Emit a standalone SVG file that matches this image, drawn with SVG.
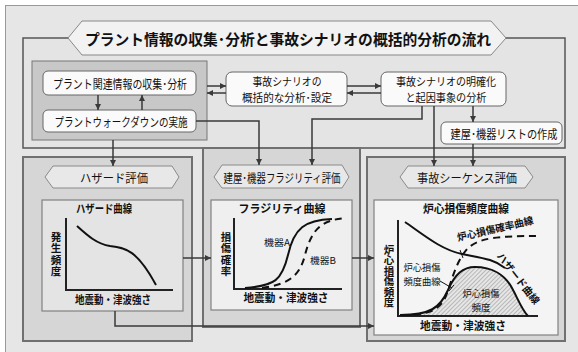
<svg xmlns="http://www.w3.org/2000/svg" width="578" height="352" viewBox="0 0 578 352">
<style>
text{font-family:"Noto Sans CJK JP","Noto Sans",sans-serif;fill:#111;dominant-baseline:central;text-anchor:middle}
.b{font-weight:bold}
.box{fill:#fafafa;stroke:#666;stroke-width:1}
.sec{fill:#d6d6d6;stroke:#707070;stroke-width:2}
.hex{fill:#e8e8e8;stroke:#8a8a8a;stroke-width:1}
.cont{stroke:#808080;stroke-width:1.2}
.ax{stroke:#222;stroke-width:2;fill:none}
.cv{stroke:#111;stroke-width:2;fill:none}
.dash{stroke:#111;stroke-width:2;fill:none;stroke-dasharray:7,5}
.con{stroke:#3a3a3a;stroke-width:1.5;fill:none}
.arr{marker-end:url(#ah)}
.yl{font-weight:bold;font-size:10.5px;writing-mode:vertical-rl;text-orientation:upright}
</style>
<defs>
<marker id="ah" viewBox="0 0 6 6" refX="6" refY="3" markerWidth="6" markerHeight="6" markerUnits="userSpaceOnUse" orient="auto">
<path d="M0,0 L6,3 L0,6 z" fill="#3a3a3a"/>
</marker>
<pattern id="hatch" width="3" height="3" patternUnits="userSpaceOnUse" patternTransform="rotate(45)">
<rect width="3" height="3" fill="#e6e6e6"/>
<line x1="0" y1="0" x2="0" y2="3" stroke="#888" stroke-width="1"/>
</pattern>
</defs>
<rect width="578" height="352" fill="#ffffff"/>
<rect x="5.5" y="5.5" width="600" height="400" fill="#e6e6e6" stroke="#999" stroke-width="1"/>

<g id="top-frame">
<rect x="23" y="38" width="542" height="110" fill="#e4e4e4" stroke="#555" stroke-width="1.5"/>
</g>
<g id="title">
<polygon points="68,38 82,21 491,21 506,38 491,55 82,55" fill="#f2f2f2" stroke="#888" stroke-width="1"/>
<text class="b" x="288" y="38" font-size="15" textLength="406" lengthAdjust="spacingAndGlyphs">プラント情報の収集･分析と事故シナリオの概括的分析の流れ</text>
</g>
<g id="plant-group">
<rect x="32" y="61" width="175" height="79" fill="#c8c8c8" stroke="#777" stroke-width="1"/>
</g>
<g id="node-collect">
<rect class="box" x="43" y="71" width="153" height="24" rx="5"/>
<text x="120" y="83" font-size="12" textLength="134" lengthAdjust="spacingAndGlyphs">プラント関連情報の収集･分析</text>
</g>
<g id="node-walkdown">
<rect class="box" x="43" y="110" width="153" height="22" rx="5"/>
<text x="121" y="121" font-size="12" textLength="133" lengthAdjust="spacingAndGlyphs">プラントウォークダウンの実施</text>
</g>
<g id="node-scenario">
<rect class="box" x="226" y="72" width="121" height="34" rx="6"/>
<text x="287" y="81" font-size="11" textLength="69" lengthAdjust="spacingAndGlyphs">事故シナリオの</text>
<text x="287" y="97" font-size="11" textLength="90" lengthAdjust="spacingAndGlyphs">概括的な分析･設定</text>
</g>
<g id="node-clarify">
<rect class="box" x="381" y="72" width="125" height="34" rx="6"/>
<text x="446" y="81" font-size="11" textLength="100" lengthAdjust="spacingAndGlyphs">事故シナリオの明確化</text>
<text x="446" y="97" font-size="11" textLength="81" lengthAdjust="spacingAndGlyphs">と起因事象の分析</text>
</g>
<g id="node-list">
<rect class="box" x="441" y="122" width="121" height="22" rx="5"/>
<text x="504" y="133" font-size="12" textLength="107" lengthAdjust="spacingAndGlyphs">建屋･機器リストの作成</text>
</g>

<g id="sec-hazard">
<rect class="sec" x="23" y="157" width="169" height="184"/>
<polygon class="hex" points="45,177 53,166 172,166 179,177 172,188 53,188"/>
<text x="114" y="177" font-size="12" textLength="68" lengthAdjust="spacingAndGlyphs">ハザード評価</text>
<rect class="cont" x="42" y="200" width="141" height="111" fill="#e4e4e4"/>
<text class="b" x="104" y="208" font-size="11.5" textLength="56" lengthAdjust="spacingAndGlyphs">ハザード曲線</text>
<path class="ax" d="M66,218 V290 H173"/>
<text class="yl" x="56" y="254" textLength="44" lengthAdjust="spacing">発生頻度</text>
<text class="b" x="113" y="299" font-size="11" textLength="76" lengthAdjust="spacingAndGlyphs">地震動・津波強さ</text>
<path class="cv" d="M77,226 C88,236 97,244 110,246 C126,248 137,250 156,285"/>
</g>

<g id="sec-fragility">
<rect class="sec" x="203" y="148" width="157" height="179"/>
<polygon class="hex" points="214,177 222,165 342,165 349,177 342,188 222,188"/>
<text x="282" y="177" font-size="12" textLength="117" lengthAdjust="spacingAndGlyphs">建屋･機器フラジリティ評価</text>
<rect class="cont" x="211" y="200" width="141" height="110" fill="#efefef"/>
<text class="b" x="282" y="208" font-size="11.5" textLength="87" lengthAdjust="spacingAndGlyphs">フラジリティ曲線</text>
<path class="ax" d="M234,218 V289 H342"/>
<text class="yl" x="226" y="254" textLength="44" lengthAdjust="spacing">損傷確率</text>
<text class="b" x="286" y="297" font-size="11" textLength="85" lengthAdjust="spacingAndGlyphs">地震動・津波強さ</text>
<path class="cv" d="M245,288 C275,286 282,280 288,255 C294,228 305,220 332,219"/>
<path class="dash" d="M262,288 C290,284 300,275 305,255 C312,228 322,220 346,218"/>
<text x="277" y="242" font-size="9.5" textLength="26" lengthAdjust="spacingAndGlyphs">機器A</text>
<text x="323" y="260" font-size="9.5" textLength="26" lengthAdjust="spacingAndGlyphs">機器B</text>
</g>

<g id="sec-sequence">
<rect class="sec" x="367" y="157" width="198" height="184"/>
<polygon class="hex" points="400,177 408,166 525,166 533,177 525,188 408,188"/>
<text x="467" y="177" font-size="12" textLength="100" lengthAdjust="spacingAndGlyphs">事故シーケンス評価</text>
<rect class="cont" x="374" y="200" width="184" height="135" fill="#f4f4f4"/>
<text class="b" x="466" y="208" font-size="11.5" textLength="86" lengthAdjust="spacingAndGlyphs">炉心損傷頻度曲線</text>
<path d="M400,315 C430,315 440,308 448,290 C455,274 463,267 475,267 C492,267 505,275 512,288 C518,299 522,310 528,316 Z" fill="url(#hatch)"/>
<path class="ax" d="M398,220 V316 H538"/>
<text class="yl" x="389" y="276" textLength="63" lengthAdjust="spacing">炉心損傷頻度</text>
<text class="b" x="463" y="325" font-size="11" textLength="86" lengthAdjust="spacingAndGlyphs">地震動・津波強さ</text>
<path class="cv" d="M405,222 C425,236 442,250 462,254 C482,258 494,259 505,268"/>
<path class="cv" d="M400,315 C430,315 440,308 448,290 C455,274 463,267 475,267 C492,267 505,275 512,288 C518,299 522,310 528,316"/>
<path class="dash" d="M402,315 C425,315 438,312 445,298 C452,282 455,262 468,248 C480,238 495,236 540,236"/>
<path d="M460,250 L463,258" stroke="#111" stroke-width="1"/>
<path d="M440,281 L452,288 M449,291 L454,285" stroke="#111" stroke-width="1" fill="none"/>
<text x="422" y="267" font-size="9.5" textLength="37" lengthAdjust="spacingAndGlyphs">炉心損傷</text>
<text x="422" y="281" font-size="9.5" textLength="37" lengthAdjust="spacingAndGlyphs">頻度曲線</text>
<text x="481" y="293" font-size="9.5" textLength="37" lengthAdjust="spacingAndGlyphs">炉心損傷</text>
<text x="481" y="307" font-size="9.5" textLength="19" lengthAdjust="spacingAndGlyphs">頻度</text>
<text class="b" x="495" y="228" font-size="10" textLength="78" lengthAdjust="spacingAndGlyphs" transform="rotate(-13 495 228)">炉心損傷確率曲線</text>
<text class="b" x="519" y="278" font-size="10" textLength="62" lengthAdjust="spacingAndGlyphs" transform="rotate(52 519 278)">ハザード曲線</text>
</g>

<g id="connectors">
<path class="con arr" d="M98,95 V110"/>
<path class="con arr" d="M142,110 V95"/>
<path class="con arr" d="M207,86 H226"/>
<path class="con arr" d="M226,93 H207"/>
<path class="con arr" d="M347,86 H381"/>
<path class="con arr" d="M381,93 H347"/>
<path class="con arr" d="M473,106 V122"/>
<path class="con arr" d="M196,121 H259 V165"/>
<path class="con arr" d="M113,140 V166"/>
<path class="con arr" d="M422,106 V119 H312 V165"/>
<path class="con arr" d="M434,106 V166"/>
<path class="con arr" d="M473,144 V166"/>
<path class="con arr" d="M183,258 H211"/>
<path class="con arr" d="M352,258 H374"/>
<path class="con arr" d="M115,311 V326 H374"/>
</g>
</svg>
